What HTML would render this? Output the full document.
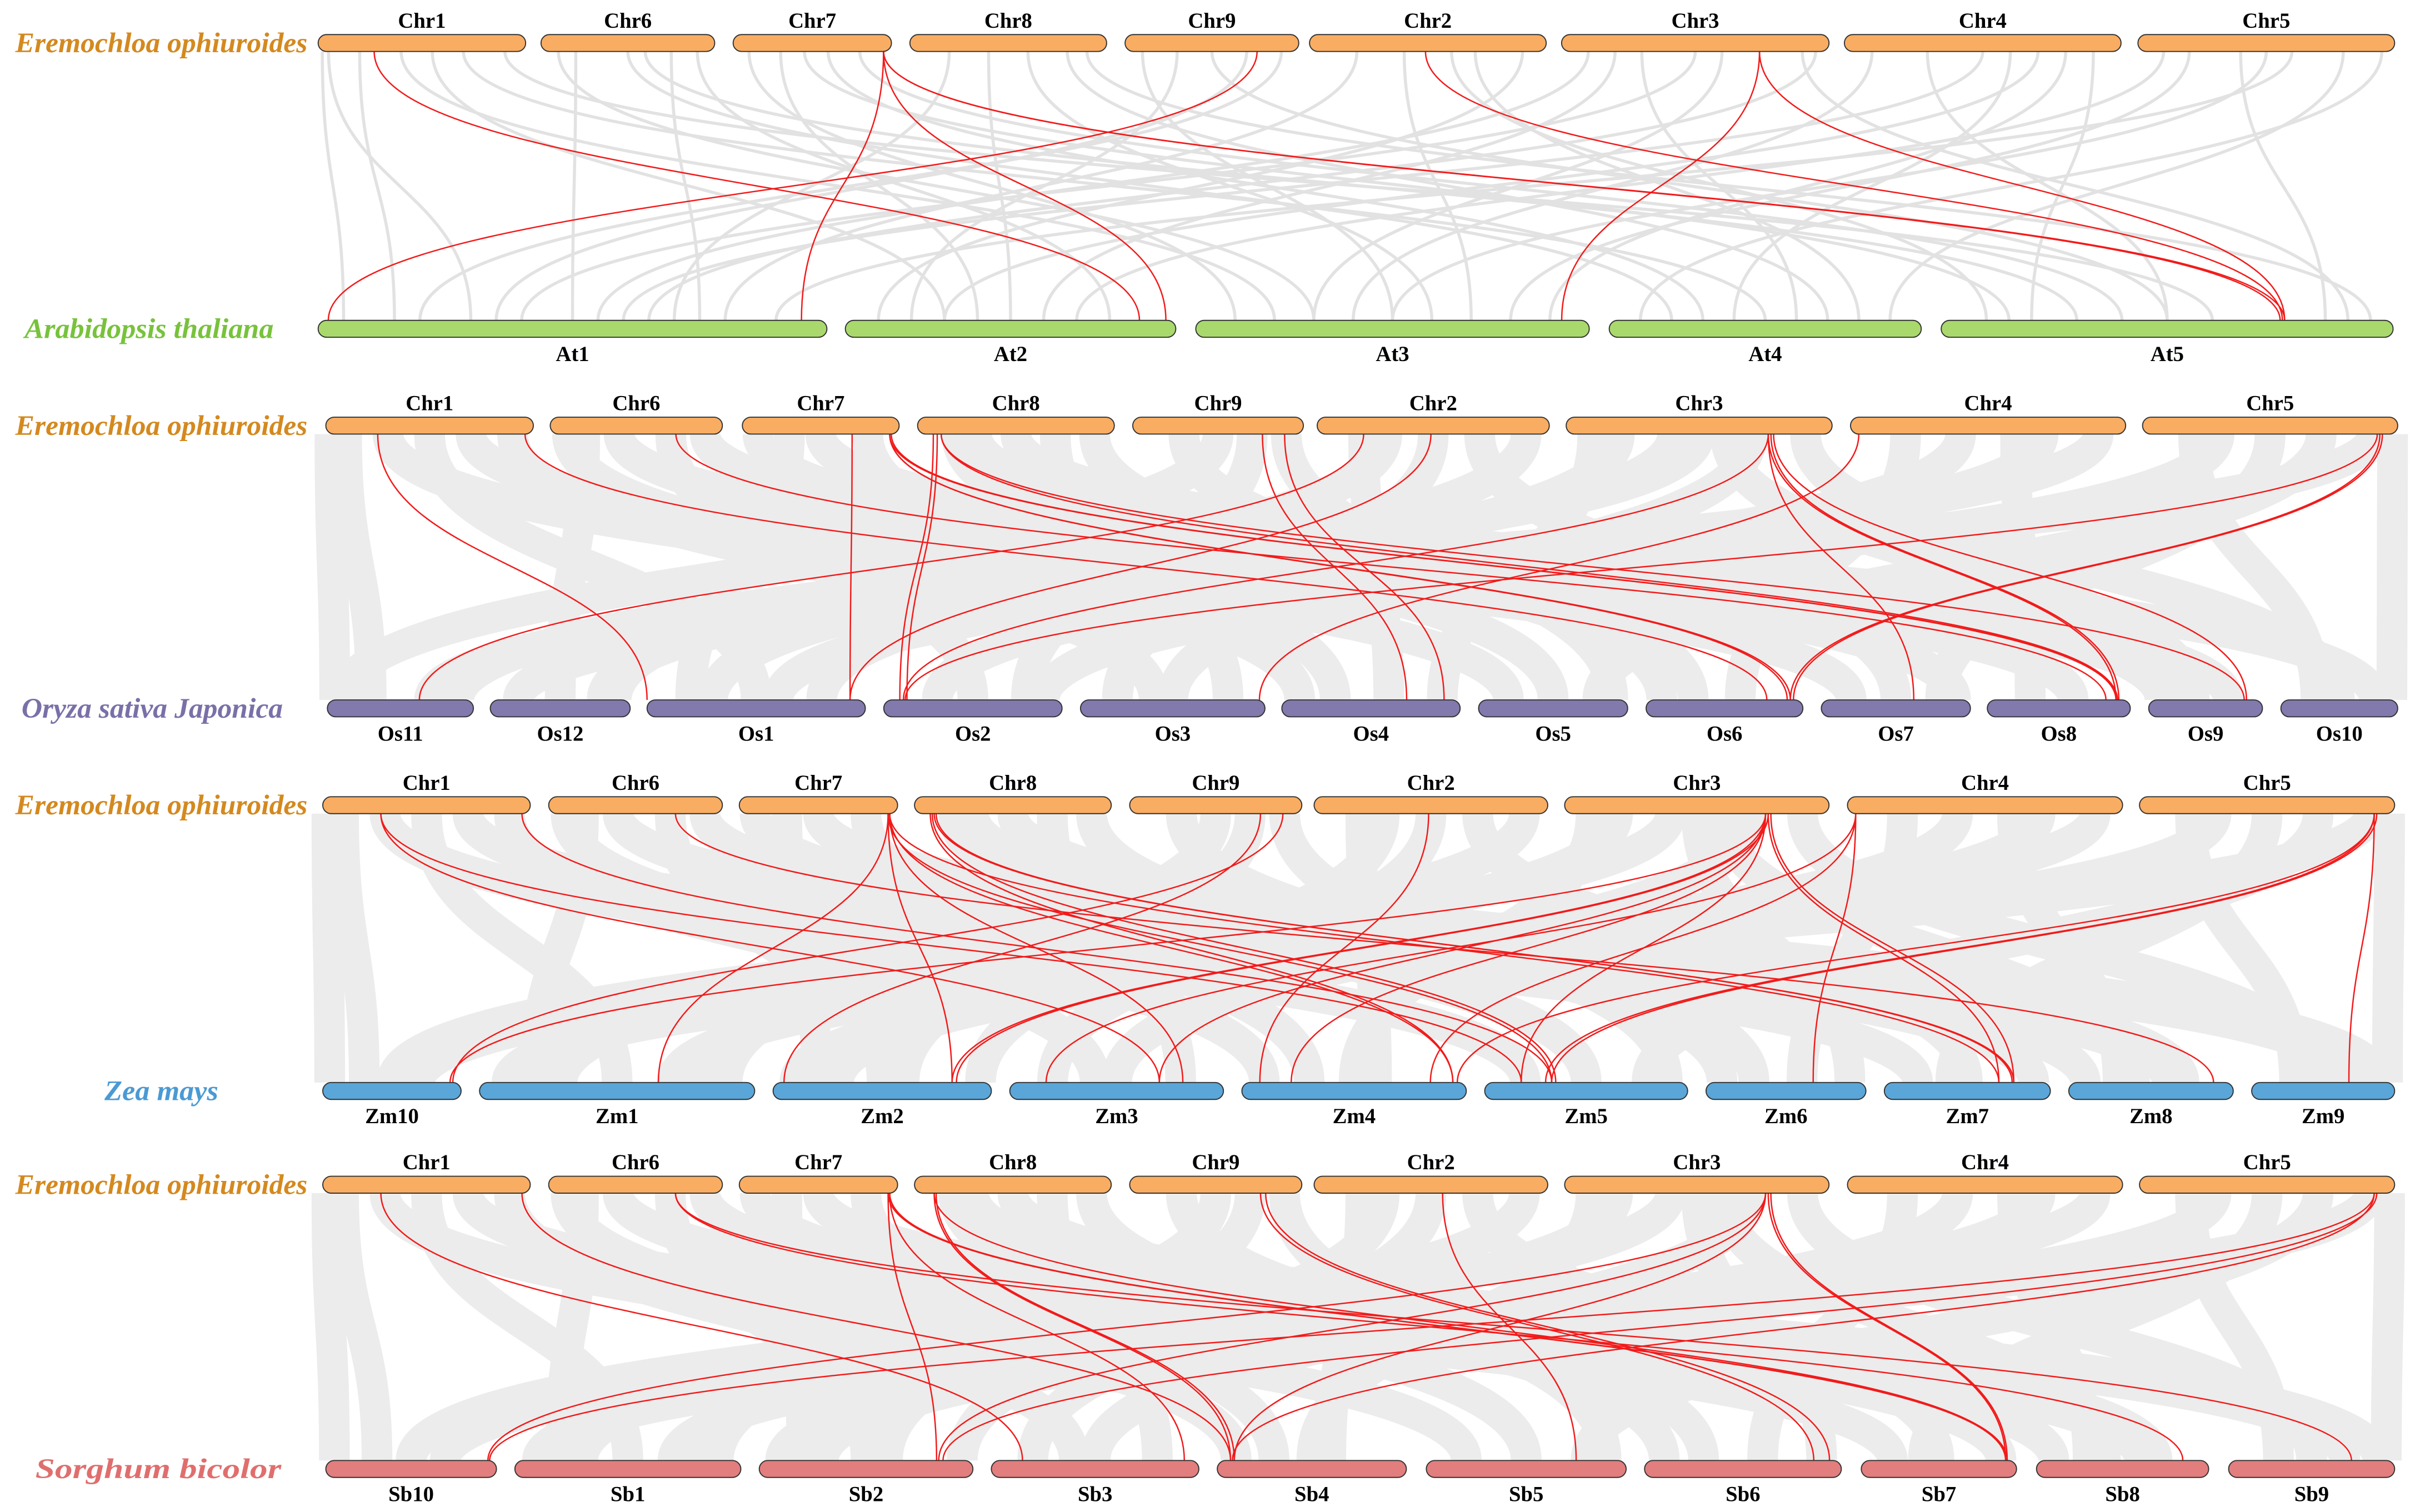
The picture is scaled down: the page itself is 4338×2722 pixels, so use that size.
<!DOCTYPE html>
<html><head><meta charset="utf-8"><style>
html,body{margin:0;padding:0;background:#fff;}
svg{display:block;}
text{font-family:"Liberation Serif",serif;}
</style></head><body>
<svg id="chart" xmlns="http://www.w3.org/2000/svg" width="4338" height="2722" viewBox="0 0 1568 984" preserveAspectRatio="none">
<g id="gray"></g><g id="red"></g><g id="bars"></g><g id="labels"></g>
</svg>
<script>
// ---- data ----
const topChrs = ['Chr1','Chr6','Chr7','Chr8','Chr9','Chr2','Chr3','Chr4','Chr5'];
const atChrs = ['At1','At2','At3','At4','At5'];
const osChrs = ['Os11','Os12','Os1','Os2','Os3','Os4','Os5','Os6','Os7','Os8','Os9','Os10'];
const zmChrs = ['Zm10','Zm1','Zm2','Zm3','Zm4','Zm5','Zm6','Zm7','Zm8','Zm9'];
const sbChrs = ['Sb10','Sb1','Sb2','Sb3','Sb4','Sb5','Sb6','Sb7','Sb8','Sb9'];
const speciesNames = ['Eremochloa ophiuroides','Arabidopsis thaliana','Oryza sativa Japonica','Zea mays','Sorghum bicolor'];

const redAt = [['Chr1',0.27,'At2',0.89],['Chr9',0.76,'At1',0.02],['Chr7',0.95,'At1',0.95],['Chr7',0.95,'At2',0.97],
 ['Chr7',0.95,'At5',0.75],['Chr7',0.95,'At5',0.76],['Chr2',0.49,'At5',0.755],['Chr3',0.74,'At3',0.93],['Chr3',0.74,'At5',0.76]];
const redOs = [['Chr1',0.25,'Os1',0.0],['Chr1',0.96,'Os6',0.77],['Chr6',0.73,'Os8',0.83],['Chr7',0.7,'Os1',0.93],
 ['Chr7',0.94,'Os6',0.92],['Chr7',0.94,'Os6',0.9],['Chr7',0.94,'Os8',0.9],['Chr7',0.95,'Os8',0.91],
 ['Chr8',0.08,'Os2',0.09],['Chr8',0.1,'Os2',0.13],['Chr8',0.12,'Os8',0.91],['Chr8',0.12,'Os9',0.84],
 ['Chr9',0.76,'Os4',0.7],['Chr9',0.89,'Os4',0.91],['Chr2',0.49,'Os1',0.93],['Chr3',0.76,'Os7',0.62],
 ['Chr3',0.76,'Os8',0.9],['Chr3',0.77,'Os8',0.92],['Chr3',0.78,'Os9',0.86],['Chr3',0.76,'Os2',0.11],
 ['Chr4',0.03,'Os3',0.97],['Chr5',0.93,'Os6',0.92],['Chr5',0.94,'Os6',0.94],['Chr5',0.92,'Os2',0.12],['Chr2',0.2,'Os11',0.63]];
const redZm = [['Chr1',0.28,'Zm3',0.7],['Chr1',0.28,'Zm5',0.18],['Chr1',0.96,'Zm5',0.33],['Chr6',0.73,'Zm8',0.88],
 ['Chr7',0.94,'Zm1',0.65],['Chr7',0.94,'Zm2',0.82],['Chr7',0.95,'Zm3',0.81],['Chr7',0.95,'Zm4',0.94],['Chr7',0.94,'Zm5',0.33],['Chr7',0.95,'Zm7',0.69],
 ['Chr8',0.08,'Zm4',0.94],['Chr8',0.09,'Zm5',0.35],['Chr8',0.1,'Zm7',0.78],['Chr8',0.11,'Zm7',0.77],
 ['Chr9',0.76,'Zm2',0.05],['Chr9',0.89,'Zm10',0.94],['Chr2',0.49,'Zm4',0.08],
 ['Chr3',0.76,'Zm2',0.82],['Chr3',0.77,'Zm2',0.84],['Chr3',0.76,'Zm3',0.7],['Chr3',0.76,'Zm4',0.22],['Chr3',0.76,'Zm10',0.92],
 ['Chr3',0.77,'Zm7',0.69],['Chr3',0.78,'Zm7',0.78],['Chr3',0.76,'Zm5',0.18],
 ['Chr4',0.03,'Zm4',0.84],['Chr4',0.03,'Zm6',0.67],['Chr4',0.03,'Zm3',0.17],
 ['Chr5',0.92,'Zm5',0.3],['Chr5',0.93,'Zm5',0.33],['Chr5',0.92,'Zm9',0.68],['Chr5',0.92,'Zm4',0.96]];
const redSb = [['Chr1',0.28,'Sb3',0.15],['Chr1',0.96,'Sb4',0.07],['Chr6',0.73,'Sb8',0.85],['Chr6',0.73,'Sb9',0.74],
 ['Chr7',0.94,'Sb2',0.83],['Chr7',0.95,'Sb3',0.93],['Chr7',0.94,'Sb7',0.93],['Chr7',0.95,'Sb7',0.94],
 ['Chr8',0.1,'Sb4',0.07],['Chr8',0.11,'Sb4',0.09],['Chr8',0.1,'Sb7',0.93],['Chr9',0.76,'Sb6',0.86],['Chr9',0.79,'Sb6',0.94],
 ['Chr2',0.55,'Sb5',0.75],['Chr3',0.76,'Sb10',0.95],['Chr3',0.76,'Sb2',0.84],['Chr3',0.77,'Sb7',0.93],['Chr3',0.78,'Sb7',0.94],['Chr3',0.76,'Sb4',0.09],
 ['Chr5',0.92,'Sb10',0.96],['Chr5',0.93,'Sb2',0.86],['Chr5',0.92,'Sb4',0.08]];

const grayAt = [['Chr1',0.05,'At1',0.3],['Chr1',0.4,'At3',0.2],['Chr1',0.7,'At4',0.5],['Chr6',0.2,'At1',0.5],['Chr6',0.6,'At5',0.3],
 ['Chr7',0.3,'At2',0.4],['Chr7',0.6,'At4',0.3],['Chr8',0.2,'At1',0.7],['Chr8',0.6,'At3',0.6],['Chr9',0.3,'At2',0.2],['Chr9',0.5,'At5',0.5],
 ['Chr2',0.2,'At1',0.8],['Chr2',0.7,'At4',0.8],['Chr3',0.2,'At2',0.6],['Chr3',0.5,'At1',0.4],['Chr3',0.9,'At5',0.9],['Chr4',0.1,'At3',0.4],
 ['Chr4',0.5,'At1',0.6],['Chr4',0.9,'At5',0.2],['Chr5',0.2,'At3',0.8],['Chr5',0.6,'At1',0.9],['Chr5',0.95,'At4',0.1],['Chr6',0.9,'At2',0.8],
 ['Chr1',0.9,'At5',0.6],['Chr7',0.1,'At3',0.1],['Chr2',0.9,'At2',0.1],['Chr3',0.3,'At4',0.6],['Chr4',0.7,'At2',0.3],['Chr8',0.9,'At5',0.95],['Chr9',0.9,'At1',0.2],
 ['Chr1',0.02,'At1',0.05],['Chr1',0.2,'At1',0.15],['Chr6',0.1,'At3',0.3],['Chr6',0.5,'At4',0.2],['Chr7',0.8,'At5',0.4],['Chr8',0.4,'At2',0.5],
 ['Chr8',0.8,'At4',0.7],['Chr9',0.1,'At3',0.5],['Chr9',0.7,'At1',0.35],['Chr2',0.4,'At3',0.7],['Chr2',0.6,'At5',0.1],['Chr3',0.1,'At1',0.55],
 ['Chr3',0.6,'At3',0.3],['Chr4',0.3,'At5',0.5],['Chr4',0.8,'At3',0.9],['Chr5',0.1,'At2',0.7],['Chr5',0.4,'At5',0.85],['Chr5',0.8,'At4',0.9],
 ['Chr1',0.55,'At2',0.3],['Chr6',0.75,'At1',0.75],['Chr7',0.45,'At5',0.15],['Chr3',0.95,'At1',0.65],['Chr4',0.6,'At4',0.4],['Chr5',0.5,'At3',0.5]];
const grayOs = [['Chr1',0.1,'Os11',0.3],['Chr1',0.5,'Os1',0.5],['Chr1',0.9,'Os3',0.4],['Chr6',0.2,'Os12',0.5],['Chr6',0.7,'Os2',0.5],
 ['Chr7',0.3,'Os1',0.2],['Chr7',0.8,'Os4',0.3],['Chr8',0.2,'Os5',0.5],['Chr8',0.7,'Os3',0.8],['Chr9',0.3,'Os6',0.3],['Chr9',0.7,'Os2',0.8],
 ['Chr2',0.2,'Os4',0.6],['Chr2',0.7,'Os7',0.5],['Chr3',0.2,'Os1',0.8],['Chr3',0.6,'Os9',0.4],['Chr3',0.9,'Os10',0.5],['Chr4',0.2,'Os6',0.6],
 ['Chr4',0.6,'Os8',0.3],['Chr4',0.9,'Os11',0.7],['Chr5',0.2,'Os10',0.3],['Chr5',0.5,'Os7',0.8],['Chr5',0.9,'Os12',0.2],['Chr6',0.4,'Os8',0.6],
 ['Chr1',0.3,'Os5',0.2],['Chr7',0.5,'Os9',0.7],['Chr2',0.5,'Os3',0.2],['Chr8',0.5,'Os10',0.8],['Chr3',0.4,'Os12',0.8],['Chr9',0.5,'Os11',0.1],['Chr5',0.7,'Os5',0.8],
 ['Chr4',0.4,'Os2',0.3],['Chr1',0.7,'Os7',0.2],['Chr2',0.9,'Os1',0.3],['Chr6',0.9,'Os9',0.2],['Chr3',0.1,'Os4',0.9],
 ['Chr1',0.02,'Os11',0.05],['Chr5',0.98,'Os10',0.95],['Chr8',0.9,'Os6',0.1],['Chr9',0.9,'Os5',0.9],['Chr2',0.3,'Os12',0.9],['Chr3',0.7,'Os3',0.5],
 ['Chr4',0.7,'Os1',0.6],['Chr7',0.1,'Os7',0.9],['Chr6',0.1,'Os4',0.1],['Chr5',0.3,'Os2',0.9],['Chr8',0.3,'Os9',0.1],['Chr3',0.5,'Os11',0.9]];
const grayZm = [['Chr1',0.1,'Zm10',0.3],['Chr1',0.5,'Zm1',0.5],['Chr1',0.9,'Zm3',0.4],['Chr6',0.2,'Zm1',0.2],['Chr6',0.7,'Zm2',0.5],
 ['Chr7',0.3,'Zm2',0.2],['Chr7',0.8,'Zm4',0.3],['Chr8',0.2,'Zm5',0.5],['Chr8',0.7,'Zm3',0.8],['Chr9',0.3,'Zm6',0.3],['Chr9',0.7,'Zm2',0.6],
 ['Chr2',0.2,'Zm4',0.6],['Chr2',0.7,'Zm7',0.5],['Chr3',0.2,'Zm1',0.8],['Chr3',0.6,'Zm8',0.4],['Chr3',0.9,'Zm9',0.5],['Chr4',0.2,'Zm6',0.6],
 ['Chr4',0.6,'Zm8',0.3],['Chr4',0.9,'Zm10',0.7],['Chr5',0.2,'Zm9',0.3],['Chr5',0.5,'Zm7',0.4],['Chr5',0.9,'Zm1',0.1],['Chr6',0.4,'Zm8',0.6],
 ['Chr1',0.3,'Zm5',0.2],['Chr7',0.5,'Zm9',0.7],['Chr2',0.5,'Zm3',0.2],['Chr8',0.5,'Zm9',0.9],['Chr3',0.4,'Zm10',0.5],['Chr9',0.5,'Zm1',0.9],['Chr5',0.7,'Zm5',0.8],
 ['Chr4',0.4,'Zm2',0.3],['Chr1',0.7,'Zm7',0.2],['Chr2',0.9,'Zm1',0.3],['Chr6',0.9,'Zm8',0.1],['Chr3',0.1,'Zm4',0.5],
 ['Chr1',0.02,'Zm10',0.05],['Chr5',0.98,'Zm9',0.95],['Chr8',0.9,'Zm6',0.1],['Chr9',0.9,'Zm5',0.9],['Chr2',0.3,'Zm2',0.95],['Chr3',0.7,'Zm3',0.5],
 ['Chr4',0.7,'Zm1',0.7],['Chr7',0.1,'Zm7',0.9],['Chr6',0.1,'Zm4',0.1],['Chr5',0.3,'Zm2',0.1],['Chr8',0.3,'Zm8',0.7],['Chr3',0.5,'Zm6',0.9]];
const graySb = [['Chr1',0.1,'Sb10',0.3],['Chr1',0.5,'Sb1',0.5],['Chr1',0.9,'Sb3',0.4],['Chr6',0.2,'Sb1',0.2],['Chr6',0.7,'Sb2',0.5],
 ['Chr7',0.3,'Sb2',0.2],['Chr7',0.8,'Sb4',0.3],['Chr8',0.2,'Sb5',0.5],['Chr8',0.7,'Sb3',0.8],['Chr9',0.3,'Sb6',0.3],['Chr9',0.7,'Sb2',0.6],
 ['Chr2',0.2,'Sb4',0.6],['Chr2',0.7,'Sb7',0.5],['Chr3',0.2,'Sb1',0.8],['Chr3',0.6,'Sb8',0.4],['Chr3',0.9,'Sb9',0.5],['Chr4',0.2,'Sb6',0.6],
 ['Chr4',0.6,'Sb8',0.3],['Chr4',0.9,'Sb10',0.7],['Chr5',0.2,'Sb9',0.3],['Chr5',0.5,'Sb7',0.4],['Chr5',0.9,'Sb1',0.1],['Chr6',0.4,'Sb8',0.6],
 ['Chr1',0.3,'Sb5',0.2],['Chr7',0.5,'Sb9',0.7],['Chr2',0.5,'Sb3',0.2],['Chr8',0.5,'Sb9',0.9],['Chr3',0.4,'Sb10',0.5],['Chr9',0.5,'Sb1',0.9],['Chr5',0.7,'Sb5',0.8],
 ['Chr4',0.4,'Sb2',0.3],['Chr1',0.7,'Sb7',0.2],['Chr2',0.9,'Sb1',0.3],['Chr6',0.9,'Sb8',0.1],['Chr3',0.1,'Sb4',0.5],
 ['Chr1',0.02,'Sb10',0.05],['Chr5',0.98,'Sb9',0.95],['Chr8',0.9,'Sb6',0.1],['Chr9',0.9,'Sb5',0.9],['Chr2',0.3,'Sb2',0.95],['Chr3',0.7,'Sb3',0.5],
 ['Chr4',0.7,'Sb1',0.7],['Chr7',0.1,'Sb7',0.9],['Chr6',0.1,'Sb4',0.1],['Chr5',0.3,'Sb2',0.1],['Chr8',0.3,'Sb8',0.7],['Chr3',0.5,'Sb6',0.9]];

// ---- layout ----
const topSpansA = [[207,342],[352,465],[477,580],[592,720],[732,845],[852,1006],[1016,1190],[1200,1380],[1391,1558]];
const topSpansB = [[212,347],[358,470],[483,585],[597,725],[737,848],[857,1008],[1019,1192],[1204,1383],[1394,1560]];
const topSpansC = [[210,345],[357,470],[481,584],[595,723],[735,847],[855,1007],[1018,1190],[1202,1381],[1392,1558]];
const rows = [
 {top:28,bot:214,chrs:atChrs,spans:[[207,538],[550,765],[778,1034],[1047,1250],[1263,1557]],tspans:topSpansA,color:'#a9d96c',red:redAt,gray:grayAt,gw:2,sp:1,sx:16,sw:162,sc:'#78c23c'},
 {top:277,bot:461,chrs:osChrs,spans:[[213,308],[319,410],[421,563],[575,691],[703,823],[834,950],[962,1059],[1071,1173],[1185,1282],[1293,1386],[1398,1472],[1484,1560]],tspans:topSpansB,color:'#8279ad',red:redOs,gray:grayOs,gw:20,sp:2,sx:14,sw:170,sc:'#7a70a8'},
 {top:524,bot:710,chrs:zmChrs,spans:[[210,300],[312,491],[503,645],[657,796],[808,954],[966,1098],[1110,1214],[1226,1334],[1346,1453],[1465,1558]],tspans:topSpansC,color:'#5aa6d9',red:redZm,gray:grayZm,gw:20,sp:3,sx:68,sw:74,sc:'#4a9ad4'},
 {top:771,bot:956,chrs:sbChrs,spans:[[212,323],[335,482],[494,633],[645,780],[792,915],[928,1058],[1070,1198],[1211,1312],[1325,1437],[1450,1558]],tspans:topSpansC,color:'#e27e7e',red:redSb,gray:graySb,gw:20,sp:4,sx:23,sw:160,sc:'#e06e6e'}
];
const NS='http://www.w3.org/2000/svg';
const gGray=document.getElementById('gray'),gRed=document.getElementById('red'),gBars=document.getElementById('bars'),gLab=document.getElementById('labels');
function mk(tag,attrs,parent){const e=document.createElementNS(NS,tag);for(const k in attrs)e.setAttribute(k,attrs[k]);parent.appendChild(e);return e;}
function xOf(names,spans,name,f){const i=names.indexOf(name);const s=spans[i];return s[0]+(s[1]-s[0])*f;}
function link(r,l,parent,stroke,w){
 const x1=xOf(topChrs,r.tspans,l[0],l[1]),x2=xOf(r.chrs,r.spans,l[2],l[3]);
 const y1=r.top+5.5,y2=r.bot-5.5,ym=(y1+y2)/2;
 return mk('path',{d:`M${x1},${y1} C${x1},${ym} ${x2},${ym} ${x2},${y2}`,fill:'none',stroke:stroke,'stroke-width':w},parent);
}
function bar(x0,x1,y,color,parent,label,above){
 const g=mk('g',{},parent);
 
 
 mk('rect',{x:x0,y:y-5.5,width:x1-x0,height:11,rx:5.5,ry:5.5,fill:color,stroke:'#333','stroke-width':0.7},g);
 const t=mk('text',{x:(x0+x1)/2,y:above?y-10:y+21,'text-anchor':'middle','font-size':14,'font-weight':'bold',fill:'#000'},g);
 t.textContent=label;
}
rows.forEach((r,ri)=>{
 r.gray.forEach(l=>{const p=link(r,l,gGray,ri===0?'#e2e2e2':'#ececec',r.gw);
  
  });
 r.red.forEach(l=>{const p=link(r,l,gRed,'#f21a1a',0.9);
  
  });
 r.tspans.forEach((s,i)=>bar(s[0],s[1],r.top,'#f9ad62',gBars,topChrs[i],true));
 r.spans.forEach((s,i)=>bar(s[0],s[1],r.bot,r.color,gBars,r.chrs[i],false));
 const t1=mk('text',{x:10,y:r.top+6,'font-size':18.5,'font-style':'italic','font-weight':'bold',fill:'#d4891f',textLength:190,lengthAdjust:'spacingAndGlyphs'},gLab);
 t1.textContent=speciesNames[0];
 
 
 const t2=mk('text',{x:r.sx,y:r.bot+6,'font-size':18.5,'font-style':'italic','font-weight':'bold',fill:r.sc,textLength:r.sw,lengthAdjust:'spacingAndGlyphs'},gLab);
 t2.textContent=speciesNames[r.sp];
 
 
});
</script>
</body></html>
